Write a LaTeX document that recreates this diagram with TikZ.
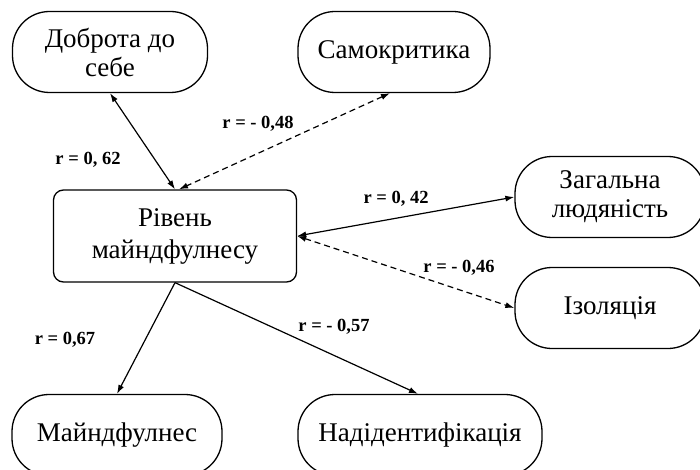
\documentclass[tikz,border=0pt]{standalone}
\usepackage{fontspec}
\setmainfont{Liberation Serif}
\usetikzlibrary{arrows.meta}
\begin{document}
\begin{tikzpicture}[x=1pt,y=-1pt,
  pill/.style={draw, line width=1.3pt, rounded corners=37pt, minimum height=81pt, align=center,
     font=\fontsize{27}{29}\selectfont, inner sep=0pt},
  cbox/.style={draw, line width=1.3pt, rounded corners=10pt, minimum width=243pt, minimum height=92pt, align=center,
     font=\fontsize{27}{32}\selectfont, inner sep=0pt},
  rlab/.style={font=\bfseries\fontsize{18.5}{20}\selectfont, inner sep=0pt},
  conn/.style={line width=1.2pt, -{Latex[length=9pt,width=6pt]}},
  conn2/.style={line width=1.2pt, {Latex[length=9pt,width=6pt]}-{Latex[length=9pt,width=6pt]}},
  dash2/.style={conn2, dashed, dash pattern=on 6pt off 4pt}
]
\useasboundingbox (0,0) rectangle (700,470);
\clip (0,0) rectangle (700,470);
\node[pill, minimum width=195pt] (dob) at (110,52) {Доброта до\\себе};
\node[pill, minimum width=192pt] (samo) at (394,52) {Самокритика};
\node[cbox] (rivn) at (175,236) {Рівень\\майндфулнесу};
\node[pill, minimum width=190pt] (zag) at (610,197) {Загальна\\людяність};
\node[pill, minimum width=190pt] (izo) at (610,308) {Ізоляція};
\node[pill, minimum width=210pt] (main) at (117,435) {Майндфулнес};
\node[pill, minimum width=244pt] (nad) at (420,435) {Надідентифікація};

\draw[conn2] (dob.south) -- (rivn.north);
\draw[dash2] ([xshift=-4pt]samo.south) -- ([xshift=4pt]rivn.north);
\draw[conn2] (rivn.east) -- (zag.west);
\draw[dash2] (rivn.east) -- (izo.west);
\draw[conn] (rivn.south) -- (main.north);
\draw[conn] (rivn.south) -- ([xshift=-2pt]nad.north);

\node[rlab] (l1) at (88,160) {r = 0, 62};
\node[rlab] (l2) at (258,124) {r = - 0,48};
\node[rlab] (l3) at (396,199) {r = 0, 42};
\node[rlab] (l4) at (459,268) {r = - 0,46};
\node[rlab] (l5) at (65,340) {r = 0,67};
\node[rlab] (l6) at (334,327) {r = - 0,57};
\end{tikzpicture}
\end{document}
